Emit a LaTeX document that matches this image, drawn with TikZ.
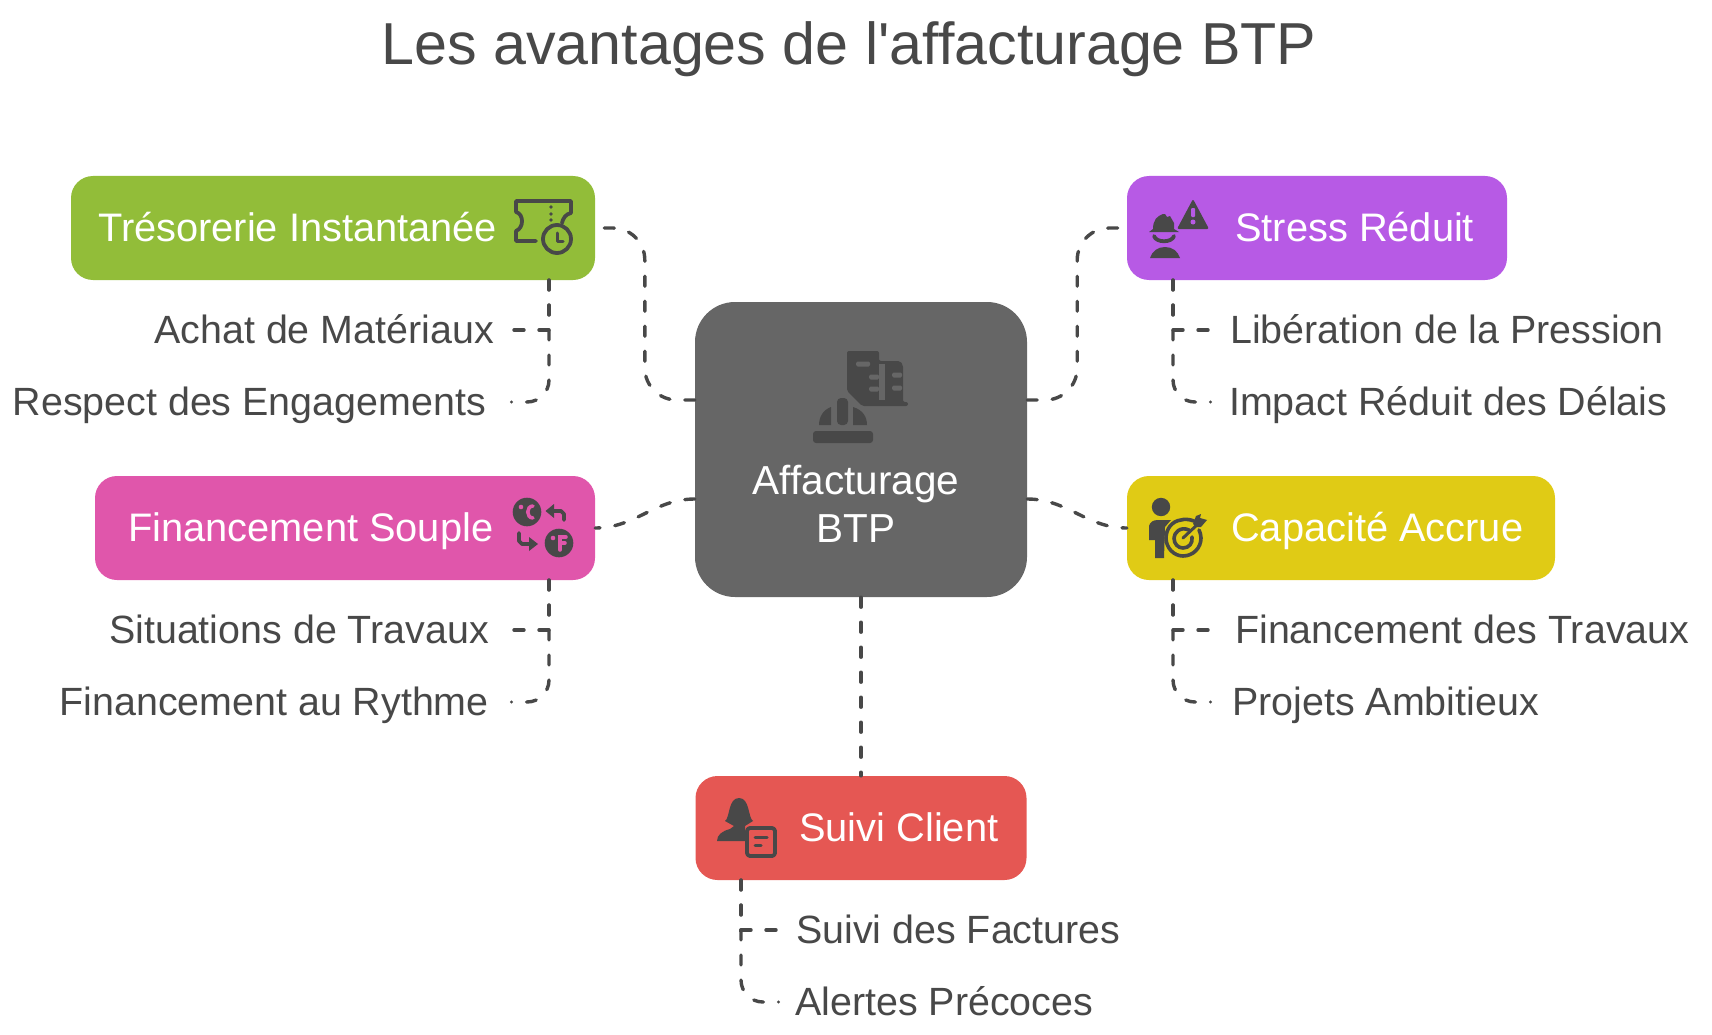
\documentclass[tikz,border=0pt]{standalone}
\usepackage{fontspec}
\setmainfont{Liberation Sans}
\newfontfamily\plainfont{Liberation Sans}
\usetikzlibrary{positioning}
\definecolor{dark}{HTML}{484848}
\definecolor{centrefill}{HTML}{666666}
\definecolor{greenfill}{HTML}{92BD39}
\definecolor{pinkfill}{HTML}{E056AB}
\definecolor{purplefill}{HTML}{B75AE5}
\definecolor{yellowfill}{HTML}{E0CB15}
\definecolor{redfill}{HTML}{E55753}
\tikzstyle{box}=[rectangle,rounded corners=22pt,minimum height=104pt,inner sep=0pt]
\tikzstyle{boxtext}=[text=white,inner sep=0pt,text height=34pt,text depth=8pt,font=\fontsize{39.8}{48}\selectfont]
\tikzstyle{sublabel}=[text=dark,inner ysep=0pt,text height=34pt,text depth=8pt,font=\fontsize{39.4}{47}\selectfont]
\tikzstyle{link}=[draw=dark,line width=3.4pt,line cap=round,dash pattern=on 10pt off 15pt]
\tikzstyle{iconfill}=[fill=dark,draw=none]
\tikzstyle{iconline}=[draw=dark,line width=3.8pt,line cap=round,line join=round]

\begin{document}
\begin{tikzpicture}[x=1pt,y=-1pt]
  \useasboundingbox (0,0) rectangle (1712,1035);

  \node[text=dark,inner sep=0pt,text height=48pt,text depth=20pt,font=\plainfont\fontsize{59.2}{70}\selectfont] (title) at (849,51) {Les avantages de l'affacturage BTP};

  \node[rectangle,rounded corners=40pt,fill=centrefill,minimum width=332pt,minimum height=295pt,inner sep=0pt] (centre) at (861,449.5) {};
  \node[text=white,inner sep=0pt,align=center,font=\fontsize{40.5}{48}\selectfont] (centretext) at (856,504) {Affacturage\\BTP};

  \foreach \x/\y/\w/\name/\col in {333/228/524/green/greenfill, 345/528/500/pink/pinkfill, 1317/228/380/purple/purplefill, 1341/528/428/yellow/yellowfill, 861/828/331/red/redfill}
          \node[box,fill=\col,minimum width=\w pt] (\name) at (\x,\y) {};

  \foreach \x/\y/\name/\label in {98/228/greentext/Trésorerie Instantanée, 128/528/pinktext/Financement Souple, 1235/228/purpletext/Stress Réduit, 1231/528/yellowtext/Capacité Accrue, 799/828/redtext/Suivi Client}
          \node[boxtext,anchor=west] (\name) at (\x,\y) {\label};

  % sub labels, left side
  \foreach \x/\y/\gap/\name/\label in {513/330/19/achat/Achat de Matériaux, 511.5/402/25.5/respect/Respect des Engagements, 513/630/24/situations/Situations de Travaux, 511.5/702/22.5/rythme/Financement au Rythme}
          \node[sublabel,anchor=east,inner xsep=\gap pt] (\name) at (\x,\y) {\label};

  % sub labels, right side
  \foreach \x/\y/\gap/\name/\label in {1210/330/20/liberation/Libération de la Pression, 1210.5/402/18.5/impact/Impact Réduit des Délais, 1210/630/25/travaux/Financement des Travaux, 1210.5/702/21.5/projets/Projets Ambitieux, 777/930/19/factures/Suivi des Factures, 778.5/1002/16.5/alertes/Alertes Précoces}
          \node[sublabel,anchor=west,inner xsep=\gap pt] (\name) at (\x,\y) {\label};

  % connectors from the centre
  \draw[link,rounded corners=32pt] ([yshift=49.5pt]centre.west) -- ++(-50,0) |- (green.east);
  \draw[link,rounded corners=32pt] ([yshift=49.5pt]centre.east) -- ++(50,0) |- (purple.west);
  \draw[link] ([yshift=-49.5pt]centre.west) to[out=180,in=0] (pink.east);
  \draw[link] ([yshift=-49.5pt]centre.east) to[out=0,in=180] (yellow.west);
  \draw[link] (centre.south) -- (red.north);

  % connectors to the sub labels
  \coordinate (greenfoot) at (549,280);
  \coordinate (pinkfoot) at (549,580);
  \coordinate (purplefoot) at (1173,280);
  \coordinate (yellowfoot) at (1173,580);
  \coordinate (redfoot) at (741,880);
  \foreach \source/\dest/\side in {greenfoot/achat/east, pinkfoot/situations/east, purplefoot/liberation/west, yellowfoot/travaux/west, redfoot/factures/west}
         \draw[link] (\source) |- (\dest.\side);
  \foreach \source/\dest/\side in {greenfoot/respect/east, pinkfoot/rythme/east, purplefoot/impact/west, yellowfoot/projets/west, redfoot/alertes/west}
         \draw[link,rounded corners=22pt] (\source) |- (\dest.\side);

  % icon of the centre
  \fill[iconfill,rounded corners=2pt] (847,351) -- (879,351) -- (879,361) -- (900,361) -- (903,365) -- (903,402) -- (908,402) -- (908,406) -- (862,406) -- (847,391) -- cycle;
  \foreach \x/\y/\w in {856/364/14, 869/377/10, 869/389/10, 892/375/10, 892/388/10}
         \fill[centrefill,rounded corners=1.5pt] (\x,\y-2.5) rectangle ++(\w,5);
  \fill[centrefill] (879,364) rectangle (885,400);
  \fill[iconfill] (819,425) .. controls (819,417) and (823,410) .. (831,407) -- (831,425) -- cycle;
  \fill[iconfill] (867,425) .. controls (867,417) and (863,410) .. (853,407) -- (853,425) -- cycle;
  \fill[iconfill,rounded corners=4pt] (837,425) -- (837,398) -- (848,398) -- (848,425) -- cycle;
  \fill[iconfill,rounded corners=3pt] (813,431) rectangle (873,443);

  % icon of the green box
  \draw[iconline] (536,241) -- (516,241) -- (516,231) .. controls (524,228) and (524,214) .. (516,212) -- (516,201) -- (571,201) -- (571,213) .. controls (566,214) and (563,218) .. (562,223);
  \foreach \y in {207,214,220}
         \fill[iconfill] (551,\y) circle[radius=1.9pt];
  \draw[iconline,fill=greenfill] (557,239) circle[radius=14pt];
  \draw[iconline,line width=3pt] (557,233) -- (557,241) -- (563,241);

  % icon of the pink box
  \fill[iconfill] (527,512) circle[radius=14.3pt];
  \fill[iconfill] (559,543) circle[radius=14.3pt];
  \fill[pinkfill] (521,507) circle[radius=2.3pt];
  \draw[pinkfill,line width=3.5pt,line cap=round] (533,506) .. controls (526,506) and (526,518) .. (533,518);
  \fill[pinkfill] (553,538) circle[radius=2.3pt];
  \draw[pinkfill,line width=3.5pt,line cap=round] (566,537) -- (560,537) -- (560,550) (560,543) -- (565,543);
  \draw[iconline] (564,520) -- (564,514) -- (561,511) -- (553,511);
  \fill[iconfill] (545.5,511) -- (554,504) -- (554,518) -- cycle;
  \draw[iconline] (519,533) -- (519,541) -- (522,544) -- (530,544);
  \fill[iconfill] (538,544) -- (529,537) -- (529,551) -- cycle;

  % icon of the purple box
  \fill[iconfill] (1153,229) .. controls (1153,220) and (1157,216) .. (1163,214) -- (1165,214) -- (1167,217) -- (1170,216) -- (1174,223) -- (1174,229) -- (1179,232) -- (1149,232) -- cycle;
  \draw[iconline] (1154,236) .. controls (1156,243) and (1172,243) .. (1174,236);
  \fill[iconfill] (1150,258) .. controls (1152,251) and (1158,247) .. (1165,247) .. controls (1172,247) and (1178,251) .. (1180,258) -- cycle;
  \fill[iconfill,rounded corners=2pt] (1193,199) -- (1209,229) -- (1177,229) -- cycle;
  \fill[purplefill,rounded corners=1pt] (1191,208) rectangle (1195,217);
  \fill[purplefill] (1193,222) circle[radius=2.5pt];

  % icon of the yellow box
  \fill[iconfill] (1161,507) circle[radius=9.2pt];
  \fill[iconfill] (1149,540) -- (1149,526) .. controls (1150,522) and (1153,520) .. (1158,520) -- (1171,520) -- (1165,527) -- (1164,558) -- (1155,558) -- (1155,540) -- cycle;
  \draw[iconline,line width=3.6pt] (1194,521) .. controls (1189,519) and (1184,519) .. (1181,520) .. controls (1172,521) and (1166,529) .. (1166,538) .. controls (1166,548) and (1174,556) .. (1183,556) .. controls (1193,556) and (1201,548) .. (1201,538) .. controls (1201,535) and (1200,532) .. (1199,530);
  \draw[iconline,line width=3.6pt] (1189,530) .. controls (1180,526) and (1174,533) .. (1174,538) .. controls (1174,544) and (1178,548) .. (1183,548) .. controls (1189,548) and (1193,543) .. (1192,537);
  \draw[iconline,line width=3pt] (1183,538) -- (1199,523);
  \fill[iconfill] (1193,524) -- (1196,516) -- (1201,514) -- (1200,518) -- (1207,520) -- (1201,527) -- (1196,527) -- cycle;

  % icon of the red box
  \fill[iconfill] (717,841) .. controls (717,835) and (722,831) .. (730,829) -- (734,826) -- (725,821) .. controls (730,818) and (728,798) .. (739,798) .. controls (750,798) and (748,818) .. (753,821) -- (745,826) -- (745,841) -- cycle;
  \draw[iconline,fill=redfill,rounded corners=3pt] (747,828) rectangle (775,856);
  \draw[iconline,line width=3pt] (755,837) -- (767,837) (755,845) -- (761,845);
\end{tikzpicture}
\end{document}
